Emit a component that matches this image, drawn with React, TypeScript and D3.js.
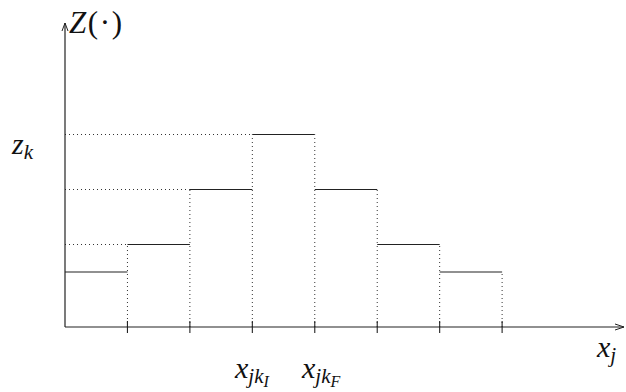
import * as d3 from "d3";

// bin edges (in bin units) and step heights
const binStarts = [0, 1, 2, 3, 4, 5, 6];
const heights = [2, 3, 5, 7, 5, 3, 2];
const tickPositions = [1, 2, 3, 4, 5, 6, 7];

const W = 626;
const H = 392;

export default function App() {
  const x = d3.scaleLinear().domain([0, 9]).range([65, 627]);
  const y = d3.scaleLinear().domain([0, 11]).range([327, 24.5]);
  const y0 = y(0);
  const x0 = x(0);
  const xEnd = 624;
  const yTop = 23;

  const ink = "#222";

  // vertical dotted lines at each edge: up to the taller neighbour
  const edges = tickPositions.map((t) => {
    const left = heights[t - 1] ?? 0;
    const right = heights[t] ?? 0;
    return { t, h: Math.max(left, right) };
  });

  // horizontal dotted guides from the axis to rising steps
  const guides = binStarts
    .map((b, i) => ({ b, h: heights[i], i }))
    .filter((d) => d.i > 0 && d.h > heights[d.i - 1]);

  return (
    <svg width={W} height={H} style={{ position: "absolute", left: 0, top: 0 }}>
      <g fill="none">
        {edges.map((d) => (
          <line
            key={"v" + d.t}
            x1={x(d.t)}
            x2={x(d.t)}
            y1={y0}
            y2={y(d.h)}
            stroke="#333"
            strokeWidth={1}
            strokeDasharray="1,3"
          />
        ))}
        {guides.map((d) => (
          <line
            key={"g" + d.i}
            x1={x0}
            x2={x(d.b)}
            y1={y(d.h)}
            y2={y(d.h)}
            stroke="#333"
            strokeWidth={1}
            strokeDasharray="1,3"
          />
        ))}
        {binStarts.map((b, i) => (
          <line
            key={"s" + i}
            x1={x(b)}
            x2={x(b + 1)}
            y1={y(heights[i])}
            y2={y(heights[i])}
            stroke={ink}
            strokeWidth={1.1}
          />
        ))}
        {tickPositions.map((t) => (
          <line key={"t" + t} x1={x(t)} x2={x(t)} y1={y0 - 6} y2={y0 + 6} stroke={ink} strokeWidth={1.1} />
        ))}
        {/* axes */}
        <line x1={x0} x2={x0} y1={y0} y2={yTop} stroke={ink} strokeWidth={1.2} />
        <line x1={x0} x2={xEnd} y1={y0} y2={y0} stroke={ink} strokeWidth={1.2} />
        <path d={`M${x0 - 3},${yTop + 8} L${x0},${yTop} L${x0 + 3},${yTop + 8}`} stroke={ink} strokeWidth={1} />
        <path d={`M${xEnd - 9},${y0 - 3} L${xEnd},${y0} L${xEnd - 9},${y0 + 3}`} stroke={ink} strokeWidth={1} />
      </g>
      <g style={{ fontFamily: "Liberation Serif" }} fill="#111">
        <text x={69} y={33} fontSize={31} textLength={53} lengthAdjust="spacing">
          <tspan fontStyle="italic">Z</tspan>
          <tspan>(·)</tspan>
        </text>
        <text x={12} y={154} fontSize={30} fontStyle="italic">
          z<tspan fontSize={21} dy={5}>k</tspan>
        </text>
        <text x={597} y={357} fontSize={30} fontStyle="italic">
          x<tspan fontSize={21} dy={5}>j</tspan>
        </text>
        <text x={235} y={378} fontSize={30} fontStyle="italic">
          x<tspan fontSize={21} dy={5}>jk</tspan>
          <tspan fontSize={16} dy={4}>I</tspan>
        </text>
        <text x={302} y={378} fontSize={30} fontStyle="italic">
          x<tspan fontSize={21} dy={5}>jk</tspan>
          <tspan fontSize={16} dy={4}>F</tspan>
        </text>
      </g>
    </svg>
  );
}
